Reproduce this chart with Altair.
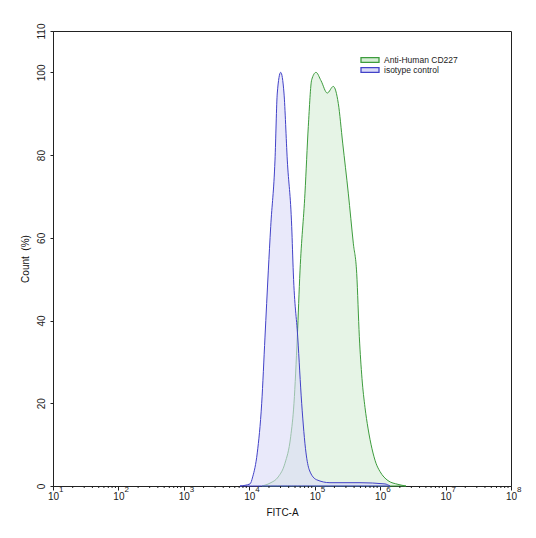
import altair as alt
import pandas as pd

series_names = ["Anti-Human CD227", "isotype control"]

green_fitc = [15630, 20750, 27700, 35100, 42900, 48200, 54200, 59600, 71000, 79800,
              89900, 104700, 124700, 155600, 192300, 229300, 267700, 326000, 388900,
              438300, 480700, 528000, 586800, 652200, 750800, 864500, 994800,
              1318000, 1874000, 2484000]
green_pct = [0, 0.7, 2.2, 5.5, 11.9, 20, 36.1, 52, 70.8, 86.9,
             98.2, 100, 98, 95, 96.6, 92.5, 82.9, 70.8, 58.7,
             51.4, 36.1, 26, 19, 14, 9, 5.5, 3.5,
             1.3, 0.4, 0]

blue_fitc = [7210, 10260, 11270, 13240, 15480, 17380, 19530, 21250, 24720, 26790,
             30200, 33900, 38100, 44500, 47100, 55000, 63200, 73600, 82600,
             107200, 171000, 492000, 1186000, 1413000]
blue_pct = [0, 0.5, 2.2, 8, 20, 36, 52, 62.7, 78.8, 95,
            100, 95, 78.8, 62.7, 51.5, 36, 20, 8, 3.9,
            1.5, 0.8, 0.8, 0.5, 0]

x_tick_values = [10, 100, 1000, 10000, 100000, 1000000, 10000000, 100000000]
x_tick_base = "10"
x_tick_exponents = ["1", "2", "3", "4", "5", "6", "7", "8"]
y_tick_values = [0, 20, 40, 60, 80, 100, 110]
minor_multipliers = [2, 3, 4, 5, 6, 7, 8, 9]

stroke_colors = ["#3d9c3d", "#4242c8"]
fill_colors = ["#d6edd6", "#dadaf7"]

df = pd.concat([
    pd.DataFrame({"fitc": green_fitc, "pct": green_pct, "series": series_names[0]}),
    pd.DataFrame({"fitc": blue_fitc, "pct": blue_pct, "series": series_names[1]}),
], ignore_index=True)

minor_df = pd.DataFrame({"fitc": [m * d for d in x_tick_values[:-1] for m in minor_multipliers]})
exp_df = pd.DataFrame({"fitc": x_tick_values, "exp": x_tick_exponents})

FONT = "Liberation Sans"

x_enc = alt.X(
    "fitc:Q",
    scale=alt.Scale(type="log", domain=[10, 100000000], nice=False),
    axis=alt.Axis(
        values=x_tick_values, labelExpr=f"'{x_tick_base}'", title="FITC-A",
        tickSize=4, labelPadding=1, titlePadding=6, grid=False,
        labelFlush=False, labelOverlap=False,
    ),
)

areas = alt.Chart(df).mark_area(
    interpolate="monotone", fillOpacity=0.6, strokeWidth=1
).encode(
    x=x_enc,
    y=alt.Y(
        "pct:Q", stack=None,
        scale=alt.Scale(domain=[0, 110], nice=False),
        axis=alt.Axis(
            values=y_tick_values, title="Count \u00a0(%)", labelAngle=270,
            labelAlign="center", labelBaseline="bottom", tickSize=3,
            labelPadding=4, titlePadding=6, grid=False,
            labelFlush=False, labelOverlap=False,
        ),
    ),
    fill=alt.Fill("series:N", scale=alt.Scale(domain=series_names, range=fill_colors),
                  legend=alt.Legend(title=None)),
    stroke=alt.Stroke("series:N", scale=alt.Scale(domain=series_names, range=stroke_colors),
                      legend=alt.Legend(title=None)),
)

minor = alt.Chart(minor_df).mark_rule(color="#222", strokeWidth=1).encode(
    x=x_enc,
    y=alt.value(455),
    y2=alt.value(457),
)

sup = alt.Chart(exp_df).mark_text(
    font=FONT, fontSize=8, align="left", baseline="top", dx=6, color="#222"
).encode(
    x=x_enc,
    y=alt.value(455),
    text="exp:N",
)

chart = alt.layer(areas, minor, sup).properties(
    width=458, height=455,
    padding={"left": 45, "top": 23, "right": 15, "bottom": 40},
    autosize=alt.AutoSizeParams(type="none"),
).configure_view(
    stroke="#222", strokeWidth=1
).configure_axis(
    labelFont=FONT, titleFont=FONT, labelFontSize=10, titleFontSize=10,
    labelColor="#222", titleColor="#111", titleFontWeight="normal",
    domainColor="#222", tickColor="#222",
).configure_legend(
    orient="none", legendX=307, legendY=24, padding=0,
    symbolType="M-1,-0.26H1V0.26H-1Z", symbolSize=324, symbolStrokeWidth=1.3,
    clipHeight=10, rowPadding=0, labelOffset=4,
    labelFont=FONT, labelFontSize=8.5, labelColor="#222",
    symbolOpacity=1,
)

chart.save("out.html", embed_options={"renderer": "svg", "actions": False})
